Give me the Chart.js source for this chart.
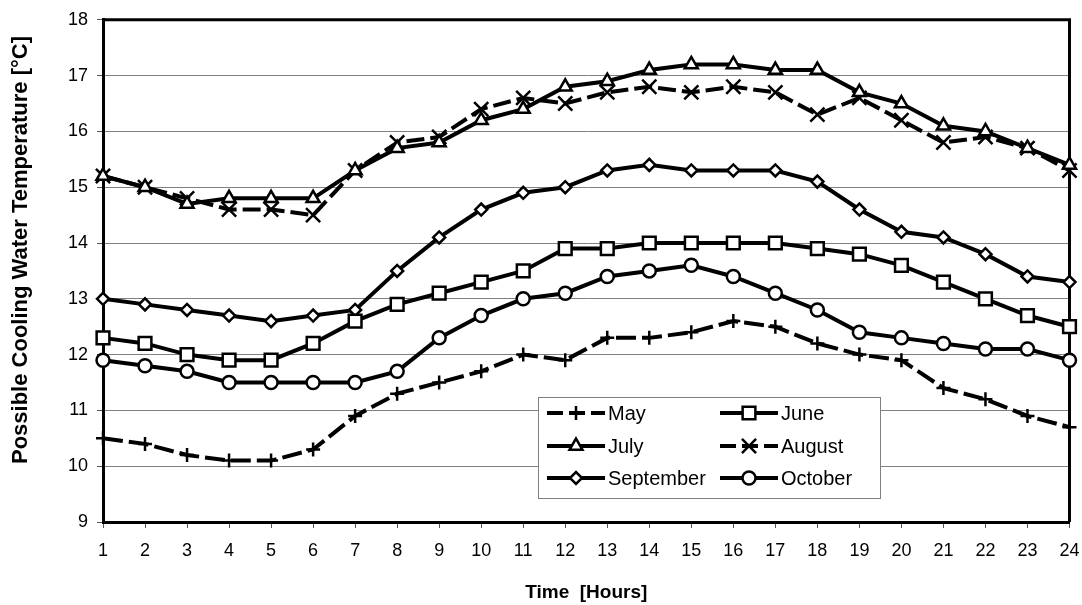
<!DOCTYPE html>
<html>
<head>
<meta charset="utf-8">
<script src="https://cdn.jsdelivr.net/npm/chart.js@4/dist/chart.umd.min.js"></script>
<style>
  html, body { margin: 0; padding: 0; background: #fff; }
  #wrap { width: 1082px; height: 605px; }
</style>
</head>
<body>
<div id="wrap"><canvas id="c" width="1082" height="605"></canvas></div>
<script>
// Hour of day (x axis categories)
const hours = ['1','2','3','4','5','6','7','8','9','10','11','12','13','14','15','16','17','18','19','20','21','22','23','24'];

// Possible cooling water temperature per month, °C
const may       = [10.5, 10.4, 10.2, 10.1, 10.1, 10.3, 10.9, 11.3, 11.5, 11.7, 12.0, 11.9, 12.3, 12.3, 12.4, 12.6, 12.5, 12.2, 12.0, 11.9, 11.4, 11.2, 10.9, 10.7];
const june      = [12.3, 12.2, 12.0, 11.9, 11.9, 12.2, 12.6, 12.9, 13.1, 13.3, 13.5, 13.9, 13.9, 14.0, 14.0, 14.0, 14.0, 13.9, 13.8, 13.6, 13.3, 13.0, 12.7, 12.5];
const july      = [15.2, 15.0, 14.7, 14.8, 14.8, 14.8, 15.3, 15.7, 15.8, 16.2, 16.4, 16.8, 16.9, 17.1, 17.2, 17.2, 17.1, 17.1, 16.7, 16.5, 16.1, 16.0, 15.7, 15.4];
const august    = [15.2, 15.0, 14.8, 14.6, 14.6, 14.5, 15.3, 15.8, 15.9, 16.4, 16.6, 16.5, 16.7, 16.8, 16.7, 16.8, 16.7, 16.3, 16.6, 16.2, 15.8, 15.9, 15.7, 15.3];
const september = [13.0, 12.9, 12.8, 12.7, 12.6, 12.7, 12.8, 13.5, 14.1, 14.6, 14.9, 15.0, 15.3, 15.4, 15.3, 15.3, 15.3, 15.1, 14.6, 14.2, 14.1, 13.8, 13.4, 13.3];
const october   = [11.9, 11.8, 11.7, 11.5, 11.5, 11.5, 11.5, 11.7, 12.3, 12.7, 13.0, 13.1, 13.4, 13.5, 13.6, 13.4, 13.1, 12.8, 12.4, 12.3, 12.2, 12.1, 12.1, 11.9];

// Temperature axis range
const yMin = 9;
const yMax = 18;
const yStep = 1;

const yTitle = 'Possible Cooling Water Temperature [°C]';
const xTitle = 'Time  [Hours]';

const FONT = "'Liberation Sans', Arial, Helvetica, sans-serif";

function series(label, data, style, radius, dash) {
  return {
    label: label,
    data: data,
    borderColor: '#000',
    backgroundColor: '#fff',
    borderWidth: 4,
    borderDash: dash || [],
    pointStyle: style,
    pointRadius: radius,
    pointHoverRadius: radius,
    pointBorderWidth: 2.5,
    pointBorderColor: '#000',
    pointBackgroundColor: '#fff',
    tension: 0,
    fill: false
  };
}

const datasets = [
  series('May', may, 'cross', 7, [20, 6]),
  series('June', june, 'rect', 9, null),
  series('July', july, 'triangle', 7.5, null),
  series('August', august, 'crossRot', 10, [18, 6]),
  series('September', september, 'rectRot', 6, null),
  series('October', october, 'circle', 6.5, null)
];

// Top and right frame of the plot area
const frame = {
  id: 'frame',
  beforeDatasetsDraw(chart) {
    const { ctx, chartArea: a } = chart;
    ctx.save();
    ctx.strokeStyle = '#000';
    ctx.lineWidth = 3;
    ctx.beginPath();
    ctx.moveTo(a.left, a.top);
    ctx.lineTo(a.right, a.top);
    ctx.lineTo(a.right, a.bottom);
    ctx.stroke();
    ctx.restore();
  }
};

// Rotated title of the temperature axis
const yAxisTitle = {
  id: 'yAxisTitle',
  afterDraw(chart) {
    const { ctx } = chart;
    ctx.save();
    ctx.translate(21, 250);
    ctx.rotate(-Math.PI / 2);
    ctx.fillStyle = '#000';
    ctx.font = 'bold 22px ' + FONT;
    ctx.textAlign = 'center';
    ctx.textBaseline = 'middle';
    ctx.fillText(yTitle, 0, 0);
    ctx.restore();
  }
};

// Boxed two-column legend inside the plot area
const boxLegend = {
  id: 'boxLegend',
  afterDatasetsDraw(chart) {
    const { ctx } = chart;
    const bx = 538, by = 397, bw = 342, bh = 101;
    ctx.save();
    ctx.fillStyle = '#fff';
    ctx.fillRect(bx, by, bw, bh);
    ctx.strokeStyle = '#808080';
    ctx.lineWidth = 1;
    ctx.strokeRect(bx + 0.5, by + 0.5, bw, bh);
    const colX = [547, 720];
    const rowY = [413, 446, 478];
    const sampleLen = 58;
    chart.data.datasets.forEach((ds, i) => {
      const x0 = colX[i % 2];
      const y0 = rowY[Math.floor(i / 2)];
      ctx.strokeStyle = '#000';
      ctx.lineWidth = 4;
      ctx.setLineDash(ds.borderDash && ds.borderDash.length ? [16, 6] : []);
      ctx.beginPath();
      ctx.moveTo(x0, y0);
      ctx.lineTo(x0 + sampleLen, y0);
      ctx.stroke();
      ctx.setLineDash([]);
      ctx.fillStyle = '#fff';
      ctx.strokeStyle = '#000';
      ctx.lineWidth = ds.pointBorderWidth;
      Chart.helpers.drawPoint(ctx, {
        pointStyle: ds.pointStyle,
        radius: ds.pointRadius,
        rotation: 0,
        borderWidth: ds.pointBorderWidth
      }, x0 + sampleLen / 2, y0);
      ctx.fillStyle = '#000';
      ctx.font = '20px ' + FONT;
      ctx.textBaseline = 'middle';
      ctx.textAlign = 'left';
      ctx.fillText(ds.label, x0 + sampleLen + 3, y0 + 1);
    });
    ctx.restore();
  }
};

new Chart(document.getElementById('c'), {
  type: 'line',
  data: { labels: hours, datasets: datasets },
  plugins: [frame, boxLegend, yAxisTitle],
  options: {
    responsive: false,
    animation: false,
    devicePixelRatio: 1,
    layout: { padding: { left: 0, right: 11, top: 17, bottom: 0 } },
    plugins: {
      legend: { display: false },
      tooltip: { enabled: false },
      title: { display: false }
    },
    scales: {
      x: {
        type: 'category',
        offset: false,
        afterFit(scale) {
          scale.height = 83;
          scale.paddingLeft = 0;
          scale.paddingRight = 0;
        },
        border: { display: true, color: '#000', width: 3 },
        grid: { display: true, drawOnChartArea: false, drawTicks: true, tickLength: 6, tickColor: '#555', tickWidth: 1 },
        ticks: { color: '#000', font: { family: FONT, size: 18 }, padding: 12, maxRotation: 0, autoSkip: false },
        title: {
          display: true,
          text: xTitle,
          color: '#000',
          font: { family: FONT, size: 19, weight: 'bold' },
          padding: { top: 0, bottom: 1 }
        }
      },
      y: {
        min: yMin,
        max: yMax,
        afterFit(scale) { scale.width = 103; },
        border: { display: true, color: '#000', width: 3 },
        grid: { color: '#808080', lineWidth: 1, drawTicks: true, tickLength: 6, tickColor: '#555', tickWidth: 1 },
        ticks: { stepSize: yStep, color: '#000', font: { family: FONT, size: 18 }, padding: 9 }
      }
    }
  }
});
</script>
</body>
</html>
